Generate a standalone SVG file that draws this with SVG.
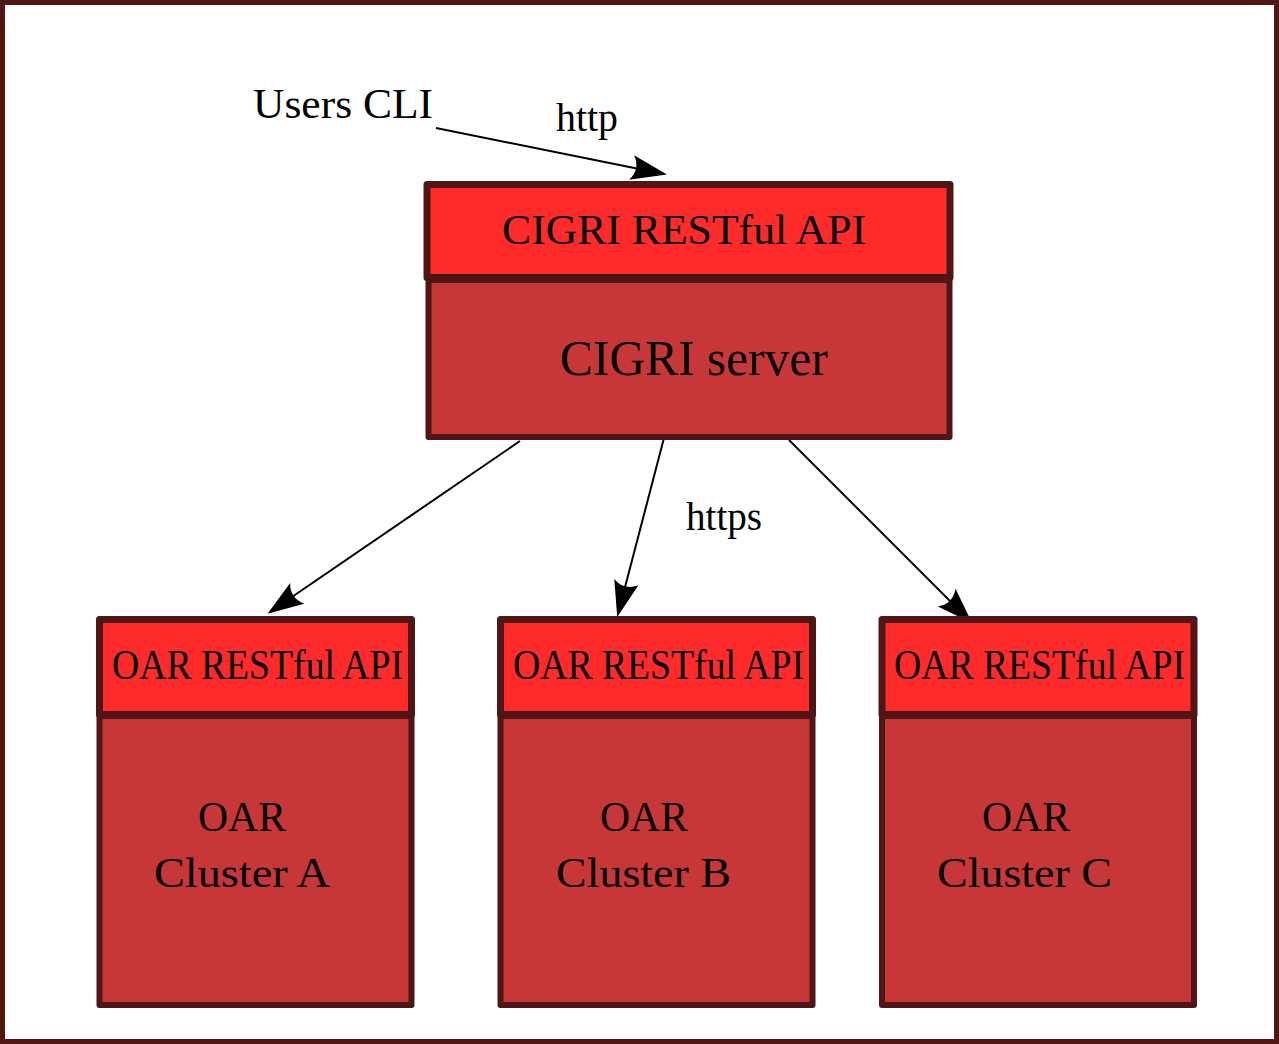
<svg xmlns="http://www.w3.org/2000/svg" width="1279" height="1044" viewBox="0 0 1279 1044">
<defs>
<style>
.frame{fill:#ffffff;stroke:#501616;stroke-width:5}
.hdr{fill:#ff2a2a;stroke:#501616;stroke-width:7;stroke-linejoin:round}
.body{fill:#c83737;stroke:#501616;stroke-width:6;stroke-linejoin:round}
.t{font-family:"Liberation Serif","Times New Roman",serif;font-size:42px;fill:#000000}
.conn{fill:none;stroke:#000000;stroke-width:2;marker-end:url(#arr)}
</style>
<marker id="arr" markerUnits="userSpaceOnUse" orient="auto" refX="0" refY="0" markerWidth="40" markerHeight="30" viewBox="-36 -13 40 26" overflow="visible">
<path d="M3,0 L-33,-12.5 Q-24,0 -33,12.5 Z" fill="#000000"/>
</marker>
</defs>
<rect class="frame" x="2.5" y="2.5" width="1274" height="1039"/>

<g id="connectors">
<path class="conn" d="M436,128 L664,174"/>
<path class="conn" d="M520,441 L270,612"/>
<path class="conn" d="M664,438 L618,614"/>
<path class="conn" d="M789,440 L970,621"/>
</g>

<g id="users-cli">
<text class="t" x="253" y="118" font-size="43" textLength="180" lengthAdjust="spacingAndGlyphs">Users CLI</text>
</g>
<g id="label-http">
<text class="t" x="556" y="131" style="font-size:40px" textLength="62" lengthAdjust="spacingAndGlyphs">http</text>
</g>
<g id="label-https">
<text class="t" x="686" y="530" style="font-size:40px" textLength="76" lengthAdjust="spacingAndGlyphs">https</text>
</g>

<g id="cigri">
<rect class="body" x="428.5" y="280" width="521" height="157"/>
<rect class="hdr" x="427" y="184.5" width="523" height="93"/>
<text class="t" x="502" y="244" textLength="364" lengthAdjust="spacingAndGlyphs">CIGRI RESTful API</text>
<text class="t" x="560" y="375" style="font-size:50px" textLength="268" lengthAdjust="spacingAndGlyphs">CIGRI server</text>
</g>

<g id="oar-a">
<rect class="body" x="99.5" y="716" width="312" height="289"/>
<rect class="hdr" x="99.5" y="619.5" width="312" height="95"/>
<text class="t" x="112" y="679" textLength="291" lengthAdjust="spacingAndGlyphs">OAR RESTful API</text>
<text class="t" x="198" y="831" textLength="88" lengthAdjust="spacingAndGlyphs">OAR</text>
<text class="t" x="154" y="887" textLength="176" lengthAdjust="spacingAndGlyphs">Cluster A</text>
</g>

<g id="oar-b">
<rect class="body" x="500.5" y="716" width="312" height="289"/>
<rect class="hdr" x="500.5" y="619.5" width="312" height="95"/>
<text class="t" x="513" y="679" textLength="291" lengthAdjust="spacingAndGlyphs">OAR RESTful API</text>
<text class="t" x="600" y="831" textLength="88" lengthAdjust="spacingAndGlyphs">OAR</text>
<text class="t" x="556" y="887" textLength="175" lengthAdjust="spacingAndGlyphs">Cluster B</text>
</g>

<g id="oar-c">
<rect class="body" x="882" y="716" width="312" height="289"/>
<rect class="hdr" x="882" y="619.5" width="312" height="95"/>
<text class="t" x="894" y="679" textLength="291" lengthAdjust="spacingAndGlyphs">OAR RESTful API</text>
<text class="t" x="982" y="831" textLength="88" lengthAdjust="spacingAndGlyphs">OAR</text>
<text class="t" x="937" y="887" textLength="175" lengthAdjust="spacingAndGlyphs">Cluster C</text>
</g>
</svg>
